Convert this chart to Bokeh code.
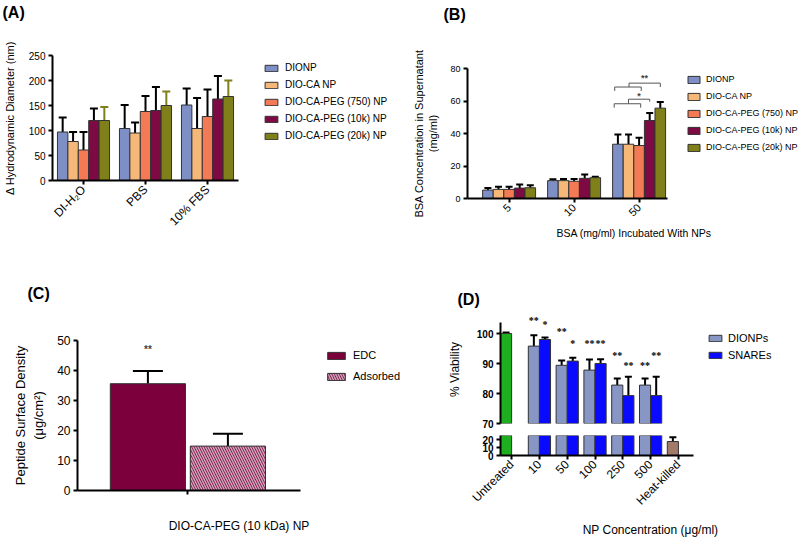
import math
from bokeh.plotting import figure
from bokeh.layouts import row, column
from bokeh.models import (Range1d, FixedTicker, Legend, LegendItem, Label, LabelSet,
                          ColumnDataSource, Whisker, TeeHead)
from bokeh.embed import file_html
from bokeh.resources import INLINE

FONT = "Liberation Sans"

# ---------------- data ----------------
series_names = ["DIONP", "DIO-CA NP", "DIO-CA-PEG (750) NP", "DIO-CA-PEG (10k) NP", "DIO-CA-PEG (20k) NP"]

# Panel A: change in hydrodynamic diameter (nm)
groups_a = ["DI-H\u2082O", "PBS", "10% FBS"]
a_dionp = [97, 104, 151]
a_dionp_err = [29, 47, 33]
a_dioca = [78, 95, 104]
a_dioca_err = [19, 21, 61]
a_peg750 = [61, 138, 128]
a_peg750_err = [36, 31, 54]
a_peg10k = [120, 140, 163]
a_peg10k_err = [24, 47, 46]
a_peg20k = [120, 150, 168]
a_peg20k_err = [27, 28, 32]

# Panel B: BSA concentration in supernatant (mg/ml)
groups_b = ["5", "10", "50"]
b_dionp = [5.2, 11.0, 33.4]
b_dionp_err = [1.2, 0.8, 6.0]
b_dioca = [5.6, 11.0, 33.4]
b_dioca_err = [1.6, 1.0, 6.0]
b_peg750 = [5.6, 10.6, 32.6]
b_peg750_err = [1.6, 1.4, 4.8]
b_peg10k = [6.4, 12.4, 48.0]
b_peg10k_err = [2.2, 2.4, 4.6]
b_peg20k = [6.6, 12.8, 55.6]
b_peg20k_err = [1.6, 0.6, 3.8]

# Panel C: peptide surface density (ug/cm2)
c_labels = ["EDC", "Adsorbed"]
c_values = [35.6, 14.8]
c_errs = [4.2, 4.1]
c_sig = "**"
c_sig_y = 47

# Panel D: % viability
d_categories = ["Untreated", "10", "50", "100", "250", "500", "Heat-killed"]
d_untreated = 100.0
d_untreated_err = 0.3
d_heat = 17.5
d_heat_err = 5.3
d_dionps = [95.8, 89.4, 87.8, 82.8, 82.8]
d_dionps_err = [3.6, 1.6, 3.5, 2.2, 2.2]
d_snares = [98.0, 90.8, 90.0, 79.3, 79.3]
d_snares_err = [0.7, 1.1, 1.4, 6.3, 6.3]
d_dionps_sig = ["**", "**", "**", "**", "**"]
d_dionps_sig_y = [104.4, 100.6, 96.7, 92.8, 89.4]
d_snares_sig = ["*", "*", "**", "**", "**"]
d_snares_sig_y = [103.0, 96.7, 96.7, 89.4, 92.8]

# ---------------- styles ----------------
COLORS5 = ["#7d8fc4", "#f5b879", "#f47a55", "#7d0a42", "#80801a"]


def style(p, tick_size="10px", tick_bold=False):
    p.outline_line_color = None
    p.xgrid.grid_line_color = None
    p.ygrid.grid_line_color = None
    p.background_fill_color = "white"
    p.border_fill_color = "white"
    for ax in p.axis:
        ax.axis_line_width = 2
        ax.axis_line_color = "black"
        ax.major_tick_line_width = 2
        ax.major_tick_line_color = "black"
        ax.major_tick_out = 4
        ax.major_tick_in = 0
        ax.minor_tick_line_color = None
        ax.major_label_text_font = FONT
        ax.major_label_text_color = "black"
        ax.major_label_text_font_size = tick_size
        ax.major_label_text_font_style = "bold" if tick_bold else "normal"
        ax.major_label_standoff = 3
        ax.axis_label_text_font = FONT
        ax.axis_label_text_font_style = "normal"
        ax.axis_label_text_color = "black"


def whisker(p, src, cap, color="black"):
    p.add_layout(Whisker(source=src, base="x", lower="top", upper="up",
                         upper_head=TeeHead(size=cap, line_color=color, line_width=2),
                         lower_head=None, line_color=color, line_width=2))


def grouped(p, vals_list, errs_list, colors, err_colors, width, cap):
    rs = []
    k = len(vals_list)
    for j, (vals, errs) in enumerate(zip(vals_list, errs_list)):
        xs = [i + (j - (k - 1) / 2) * width for i in range(len(vals))]
        src = ColumnDataSource(dict(x=xs, top=vals, up=[v + e for v, e in zip(vals, errs)]))
        whisker(p, src, cap, err_colors[j])
        r = p.vbar(x="x", top="top", bottom=0, width=width, source=src,
                   fill_color=colors[j], line_color="#333333", line_width=1)
        rs.append(r)
    return rs


def add_legend(p, names, renderers, loc, size, gw, gh, spacing, standoff):
    items = [LegendItem(label=n, renderers=[r]) for n, r in zip(names, renderers)]
    lg = Legend(items=items, location=loc, padding=0, margin=0, spacing=spacing,
                glyph_width=gw, glyph_height=gh, label_height=gh, label_standoff=standoff,
                label_text_font=FONT, label_text_font_size=size, label_text_color="black",
                border_line_color=None, background_fill_alpha=0)
    p.add_layout(lg)


def panel_title(p, text, offset, standoff, line_height=None):
    # a trailing blank line lifts the panel letter towards the top of the border
    p.title.text = text if line_height is None else text + "\n\u00a0"
    if line_height is not None:
        p.title.text_line_height = line_height
    p.title.align = "left"
    p.title.offset = offset
    p.title.standoff = standoff
    p.title.text_font = FONT
    p.title.text_font_size = "16px"
    p.title.text_font_style = "bold"
    p.title.text_color = "black"


# ---------------- Panel A ----------------
xa0, xa1 = -0.5, 2.5
pA = figure(width=400, height=270, output_backend="svg", toolbar_location=None,
            x_range=Range1d(xa0, xa0 + 346 / 62), y_range=Range1d(0, 250),
            min_border_left=52, min_border_right=2, min_border_top=55, min_border_bottom=90)
errA = ["black", "black", "black", "black", "#80801a"]
rA = grouped(pA, [a_dionp, a_dioca, a_peg750, a_peg10k, a_peg20k],
             [a_dionp_err, a_dioca_err, a_peg750_err, a_peg10k_err, a_peg20k_err],
             COLORS5, errA, 0.168, 8)
style(pA, "10px")
pA.xaxis.bounds = (xa0, xa1)
pA.xaxis.ticker = FixedTicker(ticks=list(range(len(groups_a))))
pA.xaxis.major_label_overrides = {i: g for i, g in enumerate(groups_a)}
pA.xaxis.major_label_orientation = math.pi / 4
pA.xaxis.major_label_text_font_size = "12px"
pA.yaxis.ticker = FixedTicker(ticks=[0, 50, 100, 150, 200, 250])
pA.yaxis.axis_label = "\u0394 Hydrodynamic Diameter (nm)"
pA.yaxis.axis_label_text_font_size = "11px"
pA.yaxis.axis_label_standoff = 10
add_legend(pA, series_names, rA, (211, 39), "10px", 16, 8, 6, 6)
panel_title(pA, "(A)", -50, 2, 2.0)

# ---------------- Panel B ----------------
xb0, xb1 = -0.64, 2.44
pB = figure(width=400, height=270, output_backend="svg", toolbar_location=None,
            x_range=Range1d(xb0, xb0 + 333 / 65), y_range=Range1d(0, 80),
            min_border_left=67, min_border_right=0, min_border_top=65, min_border_bottom=72)
rB = grouped(pB, [b_dionp, b_dioca, b_peg750, b_peg10k, b_peg20k],
             [b_dionp_err, b_dioca_err, b_peg750_err, b_peg10k_err, b_peg20k_err],
             COLORS5, ["black"] * 5, 0.163, 7)
style(pB, "9px")
pB.xaxis.bounds = (xb0, xb1)
pB.xaxis.ticker = FixedTicker(ticks=list(range(len(groups_b))))
pB.xaxis.major_label_overrides = {i: g for i, g in enumerate(groups_b)}
pB.xaxis.major_label_orientation = math.pi / 4
pB.xaxis.major_label_text_font_size = "11px"
pB.xaxis.axis_label = "BSA (mg/ml) Incubated With NPs"
pB.xaxis.axis_label_text_font_size = "10.5px"
pB.xaxis.axis_label_standoff = 4
pB.yaxis.ticker = FixedTicker(ticks=[0, 20, 40, 60, 80])
pB.yaxis.axis_label = "BSA Concentration in Supernatant\n(mg/ml)"
pB.yaxis.axis_label_text_font_size = "11px"
pB.yaxis.axis_label_standoff = 8
# significance brackets over the 50 mg/ml group
bw = 0.163
cb = [2 + (j - 2) * bw for j in range(5)]
lo_comb, lo_leg, lo_top, lo_drop = 58.3, 55.9, 61.1, 59.6
hi_comb, hi_leg, hi_top, hi_drop = 68.6, 66.2, 71.0, 68.6
br_xs = [[cb[0] - 0.35 * bw, cb[0] - 0.35 * bw, cb[2] + 0.15 * bw, cb[2] + 0.15 * bw],
         [cb[1], cb[1], cb[3], cb[3]],
         [cb[0] - 0.3 * bw, cb[0] - 0.3 * bw, cb[2] + 0.2 * bw, cb[2] + 0.2 * bw],
         [cb[1] + 0.05 * bw, cb[1] + 0.05 * bw, cb[4], cb[4]]]
br_ys = [[lo_leg, lo_comb, lo_comb, lo_leg],
         [lo_comb, lo_top, lo_top, lo_drop],
         [hi_leg, hi_comb, hi_comb, hi_leg],
         [hi_comb, hi_top, hi_top, hi_drop]]
pB.multi_line(xs=br_xs, ys=br_ys, line_color="#555555", line_width=1)
pB.add_layout(Label(x=(cb[1] + cb[3]) / 2, y=63.2, text="*", text_font=FONT, text_font_size="9px",
                    text_font_style="bold", text_align="center", text_baseline="middle"))
pB.add_layout(Label(x=(cb[1] + cb[4]) / 2, y=74.0, text="**", text_font=FONT, text_font_size="9px",
                    text_font_style="bold", text_align="center", text_baseline="middle"))
add_legend(pB, series_names, rB, (219, 46), "9px", 15, 9, 7, 5)
panel_title(pB, "(B)", -24, 6, 2.5)

# ---------------- Panel C ----------------
xc0, xc1 = -0.88, 1.906
pC = figure(width=400, height=270, output_backend="svg", toolbar_location=None,
            x_range=Range1d(xc0, xc0 + 323 / 80), y_range=Range1d(0, 50),
            min_border_left=77, min_border_right=0, min_border_top=70, min_border_bottom=50)
srcC = ColumnDataSource(dict(x=[0, 1], top=c_values, up=[v + e for v, e in zip(c_values, c_errs)]))
whisker(pC, srcC, 30)
rC1 = pC.vbar(x=[0], top=[c_values[0]], width=0.94, fill_color="#7b003c", line_color="#333333")
rC2 = pC.vbar(x=[1], top=[c_values[1]], width=0.94, fill_color="#7b003c", line_color="#333333",
              hatch_pattern="\\", hatch_color="#c9a2b6", hatch_weight=1.6, hatch_scale=5)
style(pC, "12px")
pC.xaxis.bounds = (xc0, xc1)
pC.xaxis.ticker = FixedTicker(ticks=[0.5])
pC.xaxis.major_label_overrides = {0.5: ""}
pC.xaxis.axis_label = "DIO-CA-PEG (10 kDa) NP"
pC.xaxis.axis_label_text_font_size = "12px"
pC.xaxis.axis_label_standoff = 24
pC.yaxis.ticker = FixedTicker(ticks=[0, 10, 20, 30, 40, 50])
pC.yaxis.axis_label = "Peptide Surface Density\n(\u03bcg/cm\u00b2)"
pC.yaxis.axis_label_text_font_size = "13px"
pC.yaxis.axis_label_standoff = 8
pC.add_layout(Label(x=0, y=c_sig_y, text=c_sig, text_font=FONT, text_font_size="10px",
                    text_font_style="bold", text_align="center", text_baseline="middle"))
add_legend(pC, c_labels, [rC1, rC2], (248, 108), "11px", 22, 9, 9, 6)
panel_title(pC, "(C)", -50, 10, 2.0)

# ---------------- Panel D (broken axis) ----------------
xd0, xd1 = -0.4, 6.54
xD = Range1d(xd0, xd0 + 300 / 27.8)
half = 0.4
conc_x = list(range(1, 6))
srcDI = ColumnDataSource(dict(x=[i - half / 2 for i in conc_x], top=d_dionps,
                              up=[v + e for v, e in zip(d_dionps, d_dionps_err)]))
srcSN = ColumnDataSource(dict(x=[i + half / 2 for i in conc_x], top=d_snares,
                              up=[v + e for v, e in zip(d_snares, d_snares_err)]))
srcUT = ColumnDataSource(dict(x=[0 - half / 2], top=[d_untreated], up=[d_untreated + d_untreated_err]))
srcHK = ColumnDataSource(dict(x=[6 - half / 2], top=[d_heat], up=[d_heat + d_heat_err]))

pD1 = figure(width=400, height=158, output_backend="svg", toolbar_location=None,
             x_range=xD, y_range=Range1d(70, 106),
             min_border_left=100, min_border_right=0, min_border_top=45, min_border_bottom=5)
pD2 = figure(width=400, height=112, output_backend="svg", toolbar_location=None,
             x_range=xD, y_range=Range1d(0, 25),
             min_border_left=100, min_border_right=0, min_border_top=7, min_border_bottom=80)

# upper segment: error bars of the treated/untreated bars; lower segment: heat-killed error bar
for src in (srcDI, srcSN, srcUT):
    whisker(pD1, src, 7)
whisker(pD2, srcHK, 7)

rDs = {}
for p, srcs in ((pD1, (srcUT, srcDI, srcSN)), (pD2, (srcUT, srcDI, srcSN, srcHK))):
    fills = ["#1fae1f", "#8796c4", "#0a0aff", "#a3796a"]
    rDs[p] = [p.vbar(x="x", top="top", bottom=0, width=half, source=s, fill_color=f, line_color="#333333")
              for s, f in zip(srcs, fills)]
    style(p, "10px", tick_bold=True)

pD1.xaxis.visible = False
pD1.yaxis.bounds = (70, 103.7)
pD1.yaxis.ticker = FixedTicker(ticks=[70, 80, 90, 100])
pD1.yaxis.axis_label = "% Viability"
pD1.yaxis.axis_label_text_font_size = "12px"
pD1.yaxis.axis_label_standoff = 12
pD2.yaxis.ticker = FixedTicker(ticks=[0, 10, 20])
pD2.xaxis.bounds = (xd0, xd1)
pD2.xaxis.ticker = FixedTicker(ticks=list(range(len(d_categories))))
pD2.xaxis.major_label_overrides = {i: c for i, c in enumerate(d_categories)}
pD2.xaxis.major_label_orientation = math.pi / 4
pD2.xaxis.major_label_text_font_size = "12px"
pD2.xaxis.major_label_text_font_style = "normal"
pD2.xaxis.axis_label = "NP Concentration (\u03bcg/ml)"
pD2.xaxis.axis_label_text_font_size = "12px"
pD2.xaxis.axis_label_standoff = 8

sigDI = ColumnDataSource(dict(x=[i - half / 2 for i in conc_x], y=d_dionps_sig_y, t=d_dionps_sig))
sigSN = ColumnDataSource(dict(x=[i + half / 2 for i in conc_x], y=d_snares_sig_y, t=d_snares_sig))
for s in (sigDI, sigSN):
    pD1.add_layout(LabelSet(x="x", y="y", text="t", source=s, text_font=FONT, text_font_size="10px",
                            text_font_style="bold", text_align="center", text_baseline="middle",
                            text_color="black"))
add_legend(pD1, ["DIONPs", "SNAREs"], [rDs[pD1][1], rDs[pD1][2]], (207, 62), "11px", 16, 8, 5, 5)
panel_title(pD1, "(D)", -43, 15)

layout = column(row(column(pA), column(pB)), row(column(pC), column(pD1, pD2)))
open("out.html", "w").write(file_html(layout, INLINE))
